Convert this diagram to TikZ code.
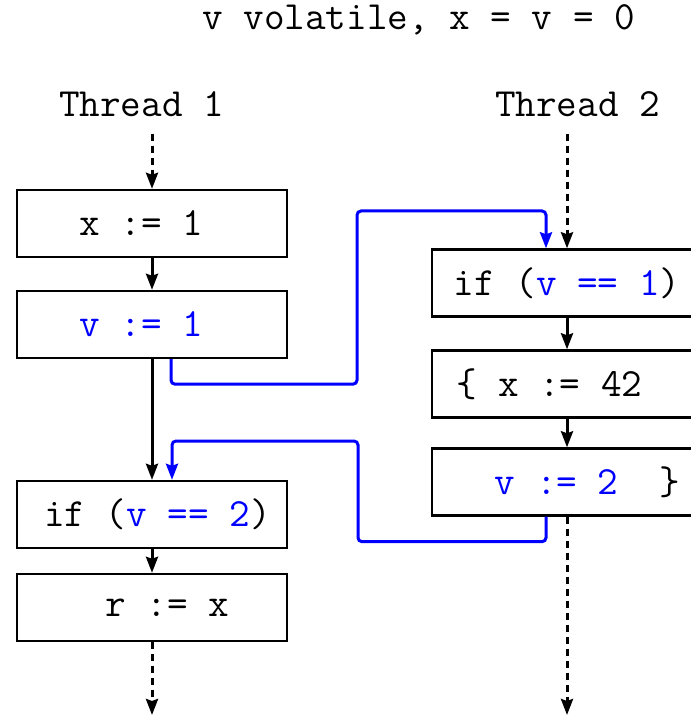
\documentclass[tikz,border=0pt]{standalone}
\usepackage{fontspec}
\usetikzlibrary{arrows.meta}
\definecolor{syncblue}{HTML}{0000FF}
\newcommand{\blue}[1]{\textcolor{syncblue}{#1}}

\begin{document}
\begin{tikzpicture}[x=0.5pt, y=-0.5pt,
    code/.style={font=\ttfamily\fontsize{20}{24}\selectfont},
    stmt/.style={code, draw, line width=1.2pt, minimum width=135pt, minimum height=33.5pt, inner sep=0pt},
    flow/.style={line width=1.5pt, -{Stealth[length=8pt, width=6pt, inset=1pt]}},
    dotflow/.style={flow, dash pattern=on 3.5pt off 2.5pt},
    sync/.style={flow, syncblue, rounded corners=2pt}]
  \useasboundingbox (0,0) rectangle (690,716);

  % Header
  \node[code] (title) at (418.5,20) {v volatile, x = v = 0};
  \node[code] (t1) at (141.5,104) {Thread 1};
  \node[code] (t2) at (577.5,104) {Thread 2};

  % Thread 1
  \node[stmt] (b1) at (152,223.5) {x := 1\hspace*{10.5pt}};
  \node[stmt] (b2) at (152,324.5) {\blue{v := 1}\hspace*{10.5pt}};
  \node[stmt] (b3) at (152,514.5) {\hspace*{5.5pt}if (\blue{v == 2})};
  \node[stmt] (b4) at (152,607.5) {\hspace*{15.5pt}r := x};

  % Thread 2
  \node[stmt] (ra) at (567,283) {if (\blue{v == 1})};
  \node[stmt] (rb) at (567,384) {\{ x := 42\hspace*{17.5pt}};
  \node[stmt] (rc) at (567,482) {\hspace*{20.5pt}\blue{v := 2}~ \}};

  \coordinate (e1) at (152,715);
  \coordinate (e2) at (567,715);

  % Program order
  \draw[dotflow] (t1.south -| b1.north) ++(0,10) -- (b1.north);
  \draw[flow] (b1) -- (b2);
  \draw[flow] (b2) -- (b3);
  \draw[flow] (b3) -- (b4);
  \draw[dotflow] (b4) -- (e1);

  \draw[dotflow] (t2.south -| ra.north) ++(0,10) -- (ra.north);
  \draw[flow] (ra) -- (rb);
  \draw[flow] (rb) -- (rc);
  \draw[dotflow] (rc) -- (e2);

  % Synchronizes-with edges
  \draw[sync] ([xshift=9.5pt]b2.south) -- ++(0,25) -| (357,211) -| ([xshift=-10.5pt]ra.north);
  \draw[sync] ([xshift=-10.5pt]rc.south) -- ++(0,25) -| (358,441) -| ([xshift=10pt]b3.north);
\end{tikzpicture}
\end{document}
